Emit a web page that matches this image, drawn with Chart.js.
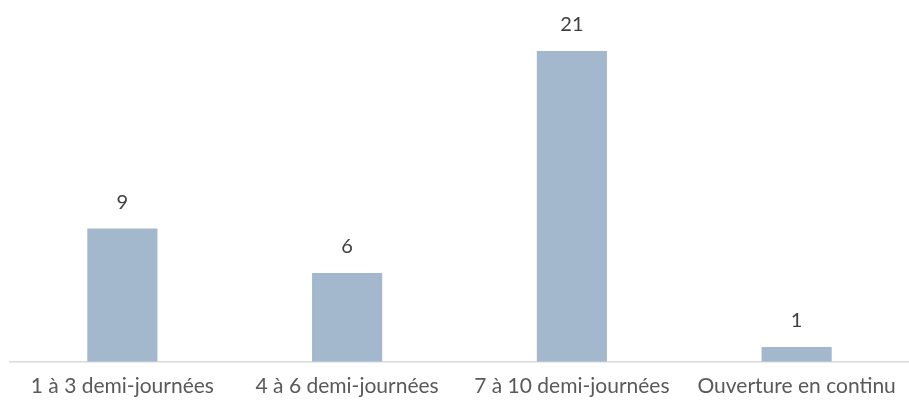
<!DOCTYPE html>
<html>
<head>
<meta charset="utf-8">
<script src="https://cdn.jsdelivr.net/npm/chart.js@4"></script>
<style>
  html, body { margin: 0; padding: 0; background: #fff; }
  #wrap { width: 909px; height: 403px; }
</style>
</head>
<body>
<div id="wrap"><canvas id="myChart"></canvas></div>
<script>
// data
const categories = ['1 à 3 demi-journées', '4 à 6 demi-journées', '7 à 10 demi-journées', 'Ouverture en continu'];
const values = [9, 6, 21, 1];

const font_family = "Lato, 'Open Sans', sans-serif";

// draws the number above each bar
const value_labels = {
    id: 'value_labels',
    afterDatasetsDraw(chart) {
        const ctx = chart.ctx;
        const meta = chart.getDatasetMeta(0);
        ctx.save();
        ctx.font = '20px ' + font_family;
        ctx.fillStyle = '#404040';
        ctx.textAlign = 'center';
        ctx.textBaseline = 'middle';
        meta.data.forEach(function (bar, i) {
            ctx.fillText(String(values[i]), bar.x, bar.y - 26);
        });
        ctx.restore();
    }
};

const ctx = document.getElementById('myChart').getContext('2d');
const myBarChart = new Chart(ctx, {
    type: 'bar',
    data: {
        labels: categories,
        datasets: [{
            data: values,
            backgroundColor: '#A3B8CC',
            barPercentage: 0.312,
            categoryPercentage: 1
        }]
    },
    options: {
        responsive: true,
        maintainAspectRatio: false,
        animation: false,
        layout: { padding: { left: 10, right: -4, top: 51, bottom: -8 } },
        plugins: {
            legend: { display: false },
            tooltip: { enabled: false }
        },
        scales: {
            x: {
                grid: { display: false, drawTicks: false },
                border: { display: true, color: '#D9D9D9', width: 1.5 },
                ticks: {
                    color: '#595959',
                    padding: 12,
                    maxRotation: 0,
                    autoSkip: false,
                    font: { family: font_family, size: 21 }
                }
            },
            y: {
                display: false,
                min: 0,
                max: 21
            }
        }
    },
    plugins: [value_labels]
});
</script>
</body>
</html>
